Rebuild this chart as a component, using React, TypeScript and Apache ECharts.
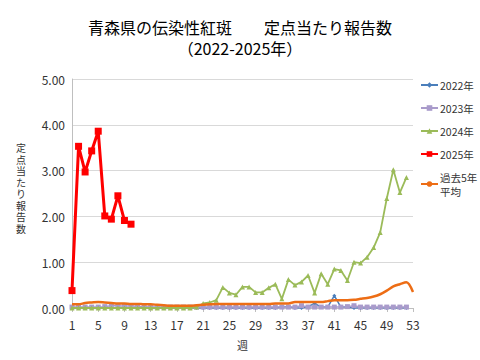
import React, { useEffect, useRef } from "react";
import * as echarts from "echarts";

const weeks: string[] = Array.from({ length: 53 }, (_, i) => String(i + 1));

const y2022: number[] = [
  0, 0, 0, 0, 0, 0, 0, 0, 0, 0, 0, 0, 0, 0, 0, 0, 0, 0.02, 0, 0,
  0, 0, 0, 0, 0, 0, 0, 0, 0, 0, 0, 0, 0.02, 0.03, 0, 0, 0.03, 0.1, 0.02, 0.02,
  0.27, 0.02, 0.02, 0, 0, 0, 0, 0, 0, 0, 0, 0,
];

const y2023: number[] = [
  0.02, 0.02, 0.02, 0.02, 0.02, 0.03, 0.05, 0.05, 0.04, 0.05, 0.03, 0.03, 0.02, 0.02, 0.02, 0.02, 0.02, 0.02, 0.02, 0.02,
  0.02, 0.02, 0.02, 0.02, 0.02, 0.02, 0.02, 0.02, 0.02, 0.02, 0.02, 0.02, 0.02, 0.02, 0.02, 0.05, 0.02, 0.02, 0.02, 0.02,
  0.02, 0.02, 0.03, 0.05, 0.02, 0.02, 0.02, 0.02, 0.02, 0.02, 0.02, 0.02,
];

const y2024: number[] = [
  0, 0, 0, 0, 0, 0, 0, 0, 0, 0, 0, 0, 0, 0, 0, 0, 0, 0, 0, 0.02,
  0.1, 0.12, 0.17, 0.45, 0.33, 0.29, 0.46, 0.46, 0.34, 0.34, 0.44, 0.52, 0.2, 0.62, 0.5, 0.57, 0.71, 0.33, 0.75, 0.52,
  0.85, 0.82, 0.6, 1.0, 0.98, 1.11, 1.32, 1.65, 2.39, 3.02, 2.52, 2.85,
];

const y2025: number[] = [0.38, 3.53, 2.97, 3.43, 3.86, 2.01, 1.94, 2.45, 1.91, 1.83];

const avg5: number[] = [
  0.08, 0.08, 0.11, 0.12, 0.13, 0.12, 0.11, 0.1, 0.1, 0.09, 0.09, 0.08, 0.08, 0.07, 0.06, 0.05, 0.05, 0.05, 0.05, 0.06,
  0.07, 0.08, 0.09, 0.09, 0.09, 0.09, 0.09, 0.09, 0.09, 0.09, 0.09, 0.1, 0.1, 0.1, 0.13, 0.13, 0.13, 0.13, 0.13, 0.15,
  0.17, 0.17, 0.17, 0.18, 0.2, 0.22, 0.25, 0.3, 0.38, 0.47, 0.52, 0.56, 0.35,
];

const seriesNames: string[] = ["2022年", "2023年", "2024年", "2025年", "過去5年\n平均"];
const yTitle = "定点当たり報告数";

export default function App() {
  const ref = useRef<HTMLDivElement>(null);
  useEffect(() => {
    if (!ref.current) return;
    const chart = echarts.init(ref.current, undefined, { renderer: "svg" });
    const font = "'Noto Sans CJK JP', 'Noto Sans', sans-serif";
    const legendTops = [73, 96, 119, 142, 165];
    chart.setOption({
      animation: false,
      backgroundColor: "#ffffff",
      textStyle: { fontFamily: font },
      title: {
        text: "青森県の伝染性紅斑　　定点当たり報告数\n（2022-2025年）",
        left: "center",
        top: 11,
        textStyle: { fontSize: 16, fontWeight: "normal", color: "#000", lineHeight: 21, fontFamily: font },
      },
      legend: seriesNames.map((n, i) => ({
        data: [n],
        orient: "vertical",
        left: 415,
        top: legendTops[i],
        itemWidth: 17,
        itemHeight: 7,
        itemGap: 0,
        textStyle: { fontSize: 10.5, color: "#333", lineHeight: 14, fontFamily: font, padding: [0, 0, 0, -3] },
      })),
      grid: { left: 72, right: 67, top: 79, bottom: 52 },
      xAxis: {
        type: "category",
        data: weeks,
        boundaryGap: false,
        name: "週",
        nameLocation: "middle",
        nameGap: 31,
        nameTextStyle: { fontSize: 11, color: "#333" },
        axisLine: { lineStyle: { color: "#bfbfbf" } },
        axisTick: { show: true, interval: 3, length: 4, lineStyle: { color: "#bfbfbf" } },
        axisLabel: { interval: 3, fontSize: 12, color: "#333", margin: 10 },
        splitLine: { show: false },
      },
      yAxis: {
        type: "value",
        min: 0,
        max: 5,
        interval: 1,
        axisLine: { show: true, lineStyle: { color: "#bfbfbf" } },
        axisTick: { show: false },
        axisLabel: { fontSize: 12, color: "#333", margin: 7, formatter: (v: number) => v.toFixed(2) },
        splitLine: { lineStyle: { color: "#d9d9d9" } },
      },
      graphic: [
        {
          type: "text",
          left: 16,
          top: 142,
          style: {
            text: yTitle.split("").join("\n"),
            fontSize: 10,
            lineHeight: 11.5,
            fill: "#333",
            fontFamily: font,
            align: "center",
          },
        },
      ],
      series: [
        {
          name: seriesNames[0],
          type: "line",
          data: y2022,
          symbol: "diamond",
          symbolSize: 4,
          showAllSymbol: true,
          lineStyle: { width: 1.5, color: "#4a7ebb" },
          itemStyle: { color: "#4a7ebb" },
          z: 2,
        },
        {
          name: seriesNames[1],
          type: "line",
          data: y2023,
          symbol: "rect",
          symbolSize: 5,
          showAllSymbol: true,
          lineStyle: { width: 1.5, color: "#a99bcb" },
          itemStyle: { color: "#a99bcb" },
          z: 3,
        },
        {
          name: seriesNames[2],
          type: "line",
          data: y2024,
          symbol: "triangle",
          symbolSize: 5,
          showAllSymbol: true,
          lineStyle: { width: 1.8, color: "#9bbb59" },
          itemStyle: { color: "#9bbb59" },
          z: 4,
        },
        {
          name: seriesNames[3],
          type: "line",
          data: y2025,
          symbol: "rect",
          symbolSize: 7,
          showAllSymbol: true,
          lineStyle: { width: 3, color: "#ff0000" },
          itemStyle: { color: "#ff0000" },
          z: 6,
        },
        {
          name: seriesNames[4],
          type: "line",
          data: avg5,
          symbol: "none",
          smooth: 0.3,
          lineStyle: { width: 2.5, color: "#ed6d15" },
          itemStyle: { color: "#ed6d15" },
          z: 5,
        },
      ],
    });
    return () => chart.dispose();
  }, []);
  return <div ref={ref} style={{ width: 480, height: 360, position: "absolute", left: 0, top: 0 }} />;
}
